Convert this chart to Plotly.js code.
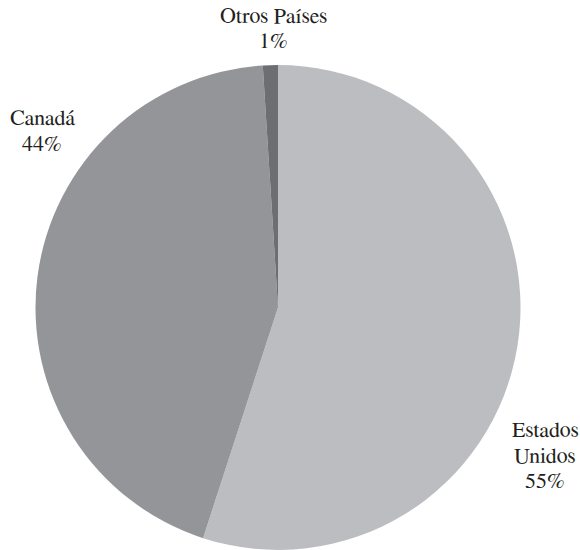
<!DOCTYPE html>
<html><head><meta charset="utf-8">
<script src="https://cdn.plot.ly/plotly-3.0.1.min.js"></script>
<style>html,body{margin:0;padding:0;background:#fff;}#chart{width:580px;height:550px;}</style>
</head><body><div id="chart"></div>
<script>
const categories = ["Estados Unidos", "Canadá", "Otros Países"];
const values = [55, 44, 1];
const labelLines = [["Estados", "Unidos"], ["Canadá"], ["Otros Países"]];
const colors = ["#bcbdc0", "#939598", "#6d6e71"];

// label anchor (center x, center y of first line) in pixels, and line step
const labelPos = [
  {x: 545, y: 430},
  {x: 42, y: 118},
  {x: 273, y: 16}
];
const lineStep = 25.5;

const annotations = [];
categories.forEach((c, i) => {
  const lines = labelLines[i].concat([values[i] + "%"]);
  lines.forEach((t, k) => {
    annotations.push({
      xref: "paper", yref: "paper",
      x: labelPos[i].x / 580, y: 1 - (labelPos[i].y + k * lineStep) / 550,
      xanchor: "center", yanchor: "middle",
      text: t, showarrow: false,
      font: {family: "FreeSerif", size: 22, color: "#231f20"}
    });
  });
});

Plotly.newPlot("chart", [{
  type: "pie",
  labels: categories,
  values: values,
  sort: false,
  direction: "clockwise",
  rotation: 0,
  textinfo: "none",
  hoverinfo: "none",
  marker: {colors: colors, line: {width: 0}},
  domain: {x: [35/580, 521/580], y: [0, 1 - 65/550]}
}], {
  width: 580, height: 550,
  margin: {l: 0, r: 0, t: 0, b: 0},
  showlegend: false,
  paper_bgcolor: "#ffffff",
  font: {family: "FreeSerif"},
  annotations: annotations
}, {displayModeBar: false});
</script></body></html>
